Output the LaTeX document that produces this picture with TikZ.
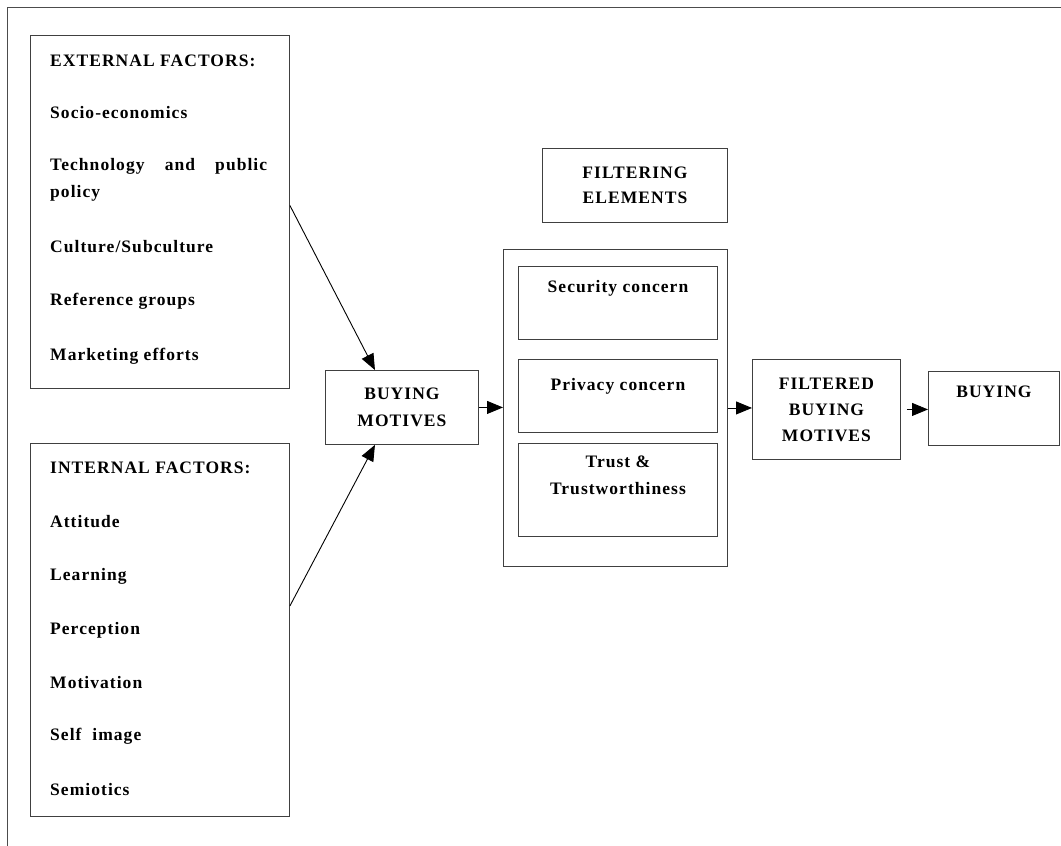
\documentclass[tikz,border=0pt]{standalone}
\usepackage{fontspec}
\setmainfont{Liberation Serif}[LetterSpace=6]
\usetikzlibrary{arrows.meta,positioning}

\tikzset{
  box/.style={draw=black!75, line width=0.9pt, inner sep=0pt},
  txt/.style={font=\fontsize{17.5}{27}\selectfont\bfseries, inner sep=0pt},
  link/.style={-{Triangle[length=16pt,width=13pt]}, line width=0.9pt}
}

\begin{document}
\begin{tikzpicture}[x=1pt,y=-1pt]
  \useasboundingbox (0,0) rectangle (1061,846);
  % outer frame (cut at right and bottom)
  \draw[black!70, line width=0.9pt] (1061,7.5) -- (7,7.5) -- (7,846);

  % factor boxes
  \node[box, anchor=north west, minimum width=259pt, minimum height=353pt] (ext) at (30,35) {};
  \node[box, anchor=north west, minimum width=259pt, minimum height=373pt] (int) at (30,443) {};
  \node[txt, anchor=west] (exthead) at (50,61) {EXTERNAL FACTORS:};
  \node[txt, anchor=west] (ext1) at (50,113) {Socio-economics};
  \node[txt, anchor=west, text width=217pt, align=left] (ext2) at (50,180)
    {Technology \hfill and \hfill public\\policy};
  \node[txt, anchor=west] (ext3) at (50,247) {Culture/Subculture};
  \node[txt, anchor=west] (ext4) at (50,301) {Reference groups};
  \node[txt, anchor=west] (ext5) at (50,356) {Marketing efforts};
  \node[txt, anchor=west] (inthead) at (50,468) {INTERNAL FACTORS:};
  \foreach \lbl/\y [count=\i] in {Attitude/522, Learning/576, Perception/630,
      Motivation/683, Self\ \ image/736, Semiotics/790}
    \node[txt, anchor=west] (int\i) at (50,\y) {\lbl};

  % motives
  \node[box, anchor=north west, minimum width=153pt, minimum height=74pt] (bm) at (325,370) {};
  \node[txt, align=center] (bmtxt) at (bm) {BUYING\\MOTIVES};

  % filtering elements
  \node[box, anchor=north west, minimum width=185pt, minimum height=74pt] (fe) at (542,148) {};
  \node[txt, align=center, font=\fontsize{17.5}{25}\selectfont\bfseries] (fetxt) at (fe) {FILTERING\\ELEMENTS};
  \node[box, anchor=north west, minimum width=224pt, minimum height=317pt] (filt) at (503,249) {};
  \node[box, anchor=north west, minimum width=199pt, minimum height=73pt] (sec) at (518,266) {};
  \node[txt, below=14pt of sec.north] (sectxt) {Security concern};
  \node[box, anchor=north west, minimum width=199pt, minimum height=73pt] (priv) at (518,359) {};
  \node[txt, below=19pt of priv.north] (privtxt) {Privacy concern};
  \node[box, anchor=north west, minimum width=199pt, minimum height=93pt] (trust) at (518,443) {};
  \node[txt, align=center, below=13pt of trust.north] (trusttxt) {Trust \&\\Trustworthiness};

  % result
  \node[box, anchor=north west, minimum width=148pt, minimum height=100pt] (fbm) at (752,359) {};
  \node[txt, align=center, font=\fontsize{17.5}{26}\selectfont\bfseries] (fbmtxt) at (fbm) {FILTERED\\BUYING\\MOTIVES};
  \node[box, anchor=north west, minimum width=131pt, minimum height=74pt] (buy) at (928,371) {};
  \node[txt, below=15pt of buy.north] (buytxt) {BUYING};

  % connectors
  \draw[link] ([yshift=6.5pt]ext.east) -- ([xshift=-27pt]bm.north);
  \draw[link] ([yshift=24pt]int.east) -- ([xshift=-27pt]bm.south);
  \draw[link] (bm.east) -- (bm.east -| filt.west);
  \draw[link] (filt.east) -- (filt.east -| fbm.west);
  \draw[link, shorten <=6pt] (fbm.east) -- (fbm.east -| buy.west);
\end{tikzpicture}
\end{document}
